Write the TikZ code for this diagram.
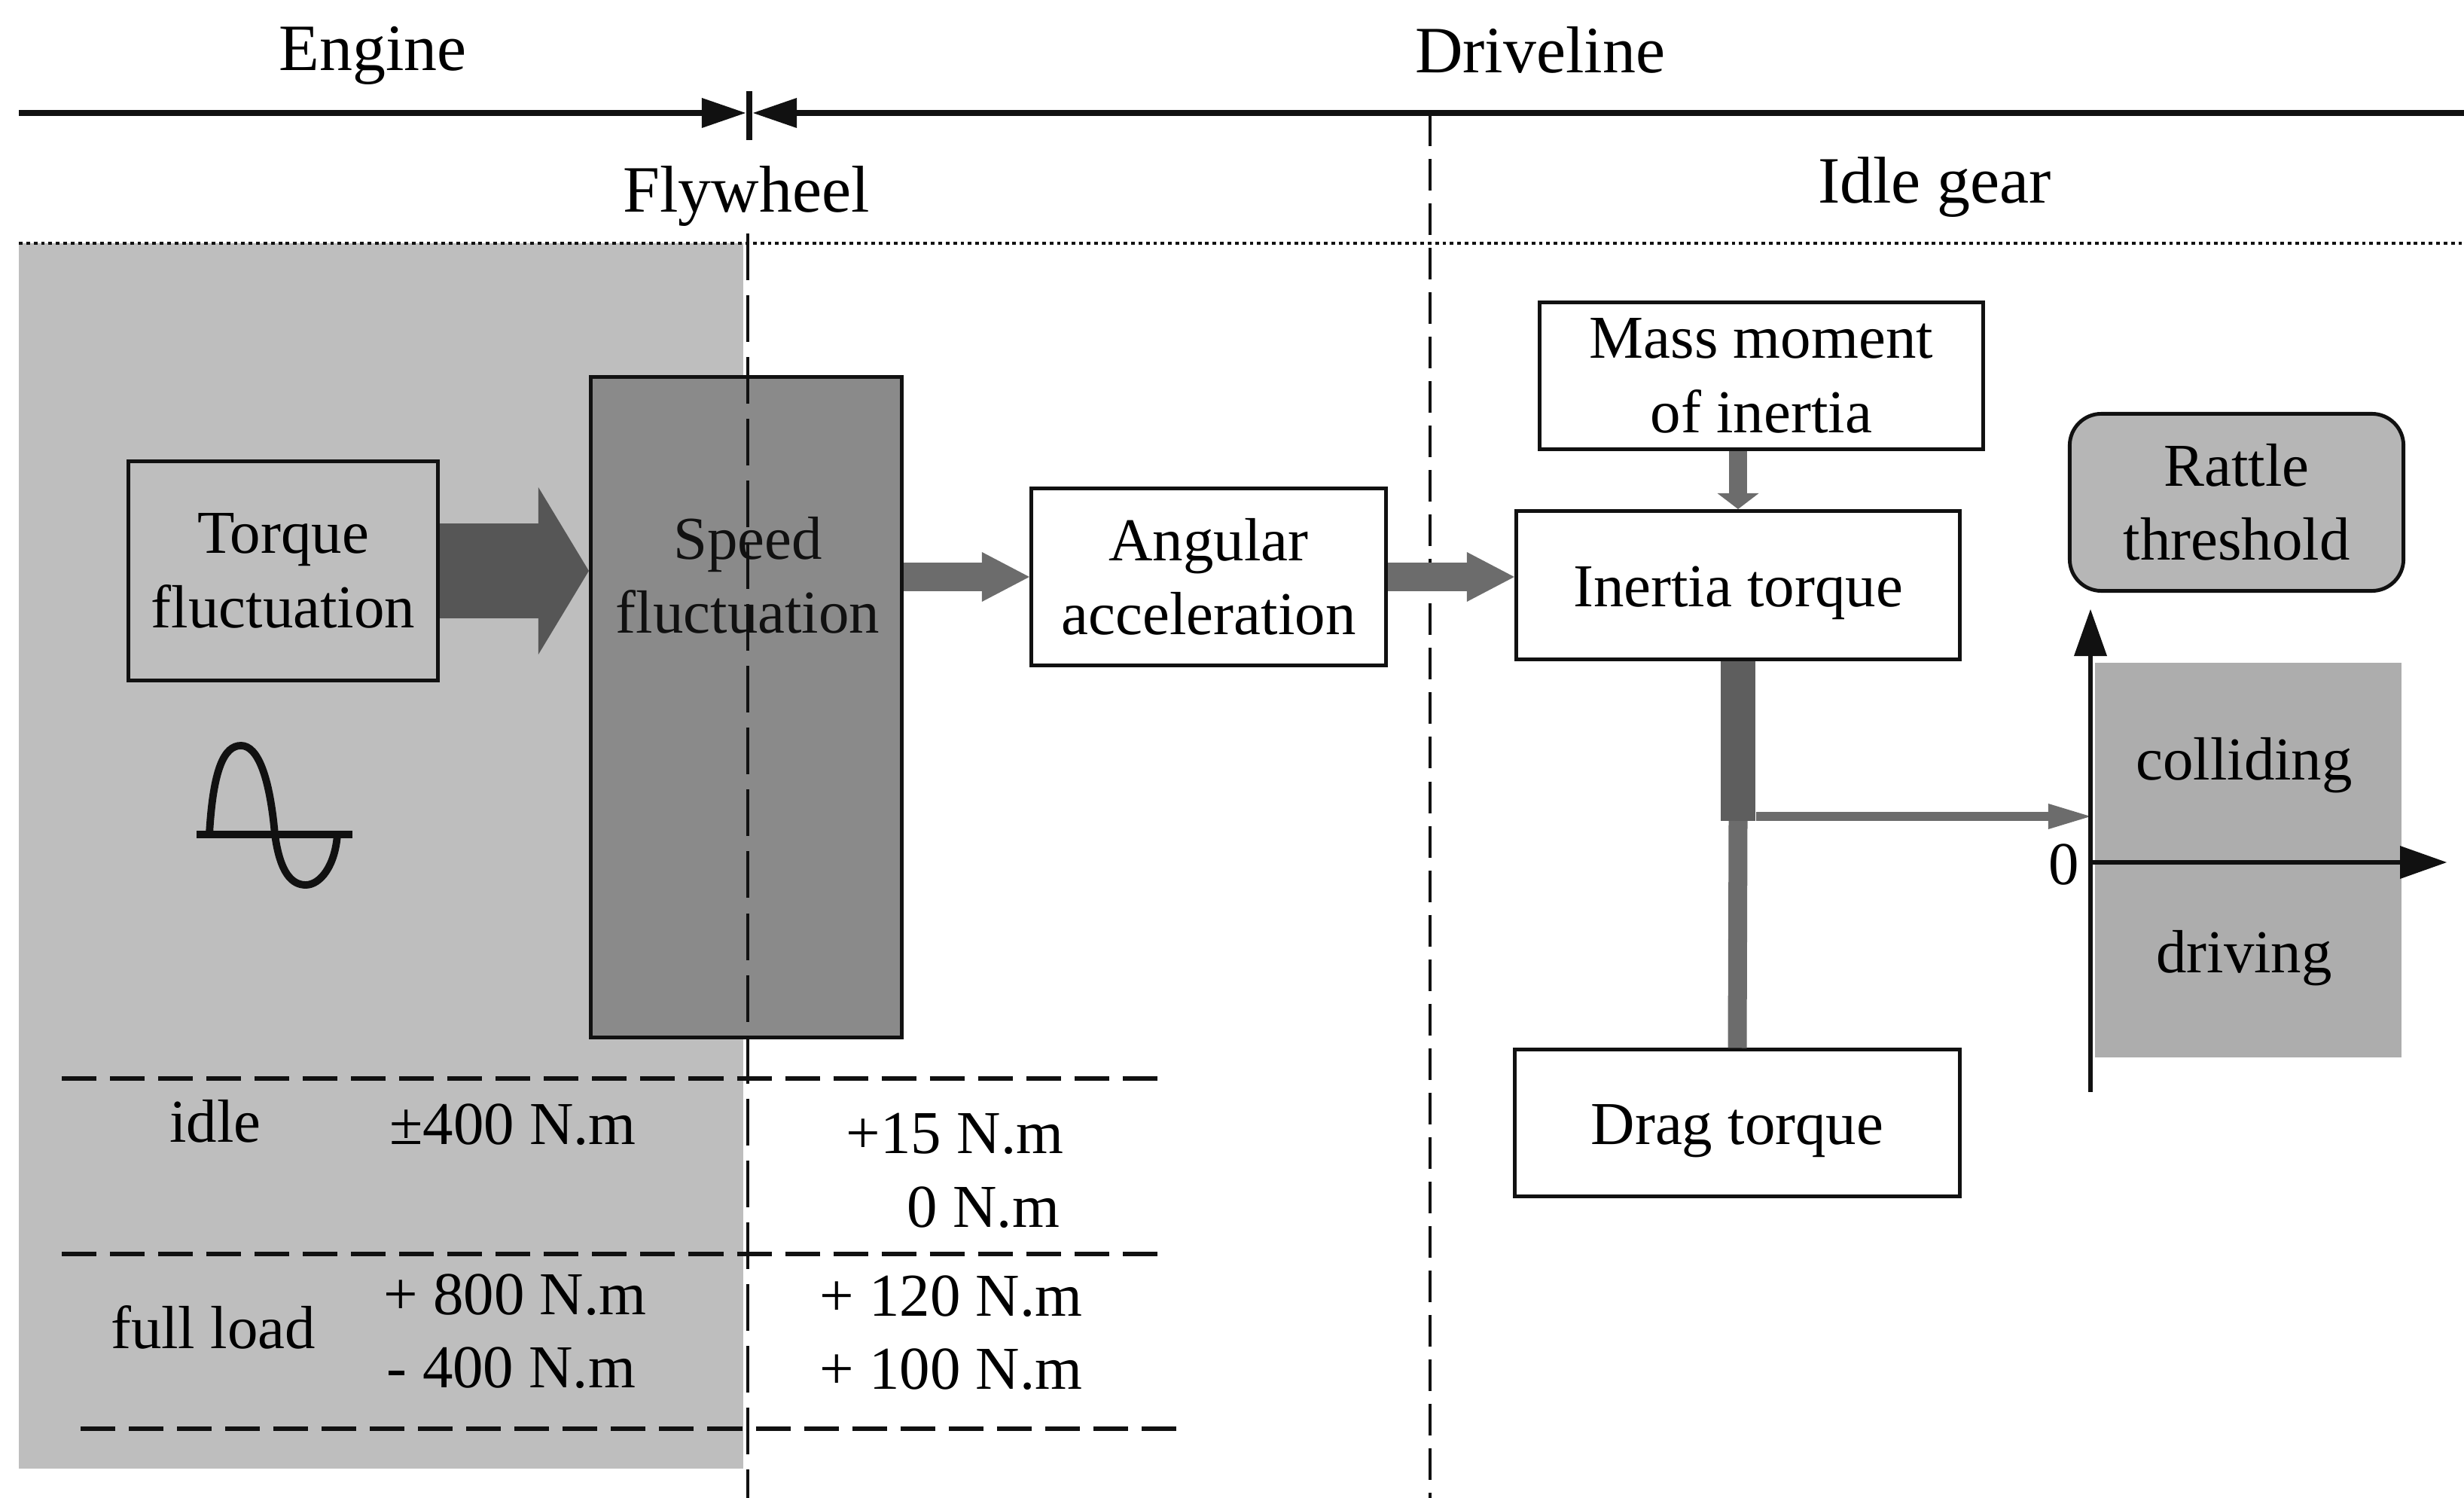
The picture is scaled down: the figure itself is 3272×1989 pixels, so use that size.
\documentclass[tikz,border=0pt]{standalone}
\usepackage{fontspec}
\setmainfont{Liberation Serif}
\usepackage{tikz}
\usetikzlibrary{arrows.meta,calc,positioning}
\definecolor{ink}{HTML}{111111}
\definecolor{bgshade}{HTML}{BEBEBE}
\definecolor{speedshade}{HTML}{8A8A8A}
\definecolor{fatshade}{HTML}{565656}
\definecolor{arrshade}{HTML}{6C6C6C}
\definecolor{barshade}{HTML}{5E5E5E}
\definecolor{rattleshade}{HTML}{B6B6B6}
\definecolor{zoneshade}{HTML}{ADADAD}
\tikzset{
  box/.style={draw=ink,line width=1.4pt,align=center,inner sep=0pt,font=\fontsize{23}{28}\selectfont},
  txt/.style={font=\fontsize{23}{28}\selectfont},
  head/.style={font=\fontsize{25}{30}\selectfont,anchor=base},
  cell/.style={font=\fontsize{23}{28}\selectfont,anchor=base},
  topline/.style={ink,line width=2pt,-{Triangle[length=0.58cm,width=0.40cm,line width=0pt]}},
  vdash/.style={ink,line width=1.3pt,dash pattern=on 0.62cm off 0.2cm},
  vdashb/.style={ink,line width=1.3pt,dash pattern=on 0.42cm off 0.17cm},
  rowline/.style={ink,line width=1.5pt,dash pattern=on 0.46cm off 0.18cm},
  fatarrow/.style={fatshade,line width=1.26cm,-{Triangle[length=0.67cm,width=2.22cm,line width=0pt]}},
  midarrow/.style={arrshade,line width=0.37cm,-{Triangle[length=0.63cm,width=0.66cm,line width=0pt]}},
  smallarrow/.style={arrshade,line width=0.24cm,-{Triangle[length=0.21cm,width=0.55cm,line width=0pt]}},
  thinarrow/.style={arrshade,line width=0.12cm,-{Triangle[length=0.56cm,width=0.34cm,line width=0pt]}},
  axisline/.style={ink,line width=1.7pt,-{Triangle[length=0.62cm,width=0.44cm,line width=0pt]}},
}
\begin{document}
\begin{tikzpicture}[x=0.01cm,y=-0.01cm]
  \useasboundingbox (0,0) rectangle (3272,1989);
  \fill[bgshade] (25,323) rectangle (987,1950);
  \fill[zoneshade] (2782,880) rectangle (3189,1404);

  \node[head] (engine) at (495,94) {Engine};
  \node[head] (driveline) at (2045,97) {Driveline};
  \node[head] (flywheel) at (991,282) {Flywheel};
  \node[head] (idlegear) at (2569,270) {Idle gear};

  \coordinate (topL) at (25,150);
  \coordinate (topR) at (3272,150);
  \coordinate (flyL) at (990,150);
  \coordinate (flyR) at (1000,150);
  \coordinate (tickT) at (995,121);
  \coordinate (tickB) at (995,186);
  \draw[topline] (topL) -- (flyL);
  \draw[topline] (topR) -- (flyR);
  \draw[ink,line width=0.08cm] (tickT) -- (tickB);
  \draw[ink,line width=1.2pt,dash pattern=on 1.4pt off 1.4pt] (25,323) -- (3272,323);

  \node[box,minimum width=4.11cm,minimum height=2.91cm] (torque) at (376,758) {Torque\\fluctuation};
  \node[box,fill=speedshade,minimum width=4.13cm,minimum height=8.76cm] (speed) at (991,939) {};
  \node[box,fill=white,minimum width=4.71cm,minimum height=2.34cm] (angular) at (1605,766) {Angular\\acceleration};
  \node[box,fill=white,minimum width=5.88cm,minimum height=1.94cm] (mass) at (2339,499) {Mass moment\\of inertia};
  \node[box,fill=white,minimum width=5.89cm,minimum height=1.97cm,text height=21pt,text depth=5pt] (inertia) at (2308,777) {Inertia torque};
  \node[box,fill=white,minimum width=5.90cm,minimum height=1.94cm,text height=21pt,text depth=5pt] (drag) at (2307,1491) {Drag torque};
  \node[box,fill=rattleshade,rounded corners=0.42cm,minimum width=4.43cm,minimum height=2.35cm] (rattle) at (2970,667) {Rattle\\threshold};

  \draw[vdash] (993,310) -- (993,1989);
  \draw[vdashb] (1899,152) -- (1899,1989);
  \node[txt,align=center,text=ink] (speedlbl) at (993,764) {Speed\\fluctuation};

  \draw[fatarrow] (torque.east) -- (torque.east -| speed.west);
  \draw[midarrow] (speed.east |- angular.west) -- (angular.west);
  \draw[midarrow] (angular.east) -- (angular.east -| inertia.west);
  \draw[smallarrow] (inertia.north |- mass.south) -- (inertia.north);

  \path (inertia.south) ++(0,212) coordinate (tee);
  \draw[barshade,line width=0.46cm] (inertia.south) -- (tee);
  \draw[arrshade,line width=0.25cm] (tee) -- (drag.north);

  \coordinate (axO) at (2776,1145);
  \coordinate (axB) at (2776,1450);
  \coordinate (axT) at (2776,809);
  \coordinate (axX) at (3249,1145);
  \path (tee) ++(24,-6) coordinate (teeR);
  \draw[thinarrow] (teeR) -- (teeR -| axO);
  \draw[axisline] (axB) -- (axT);
  \draw[axisline] (axO) -- (axX);
  \node[txt,anchor=east,inner sep=0pt] (zero) at (2762,1148) {0};
  \node[cell] (colliding) at (2980,1036) {colliding};
  \node[cell] (driving) at (2980,1292) {driving};

  \draw[ink,line width=2.8pt] (261,1108) -- (468,1108);
  \draw[ink,line width=2.8pt] (278,1108) .. controls (283,1020) and (298,990) .. (320,990)
    .. controls (342,990) and (358,1030) .. (365,1108)
    .. controls (372,1160) and (388,1175) .. (406,1175)
    .. controls (425,1175) and (445,1150) .. (448,1108);

  \foreach \yy/\xa/\xb in {1432/82/1546,1665/82/1546,1897/107/1571}
    \draw[rowline] (\xa,\yy) -- (\xb,\yy);
  \node[cell] (idle) at (286,1516) {idle};
  \node[cell] (idleE) at (681,1520) {±400 N.m};
  \node[cell] (idleF1) at (1268,1531) {+15 N.m};
  \node[cell] (idleF0) at (1306,1629) {0 N.m};
  \node[cell] (full) at (283,1790) {full load};
  \node[cell] (fullE1) at (684,1745) {+ 800 N.m};
  \node[cell] (fullE2) at (679,1842) {- 400 N.m};
  \node[cell] (fullF1) at (1263,1747) {+ 120 N.m};
  \node[cell] (fullF2) at (1263,1844) {+ 100 N.m};
\end{tikzpicture}
\end{document}
